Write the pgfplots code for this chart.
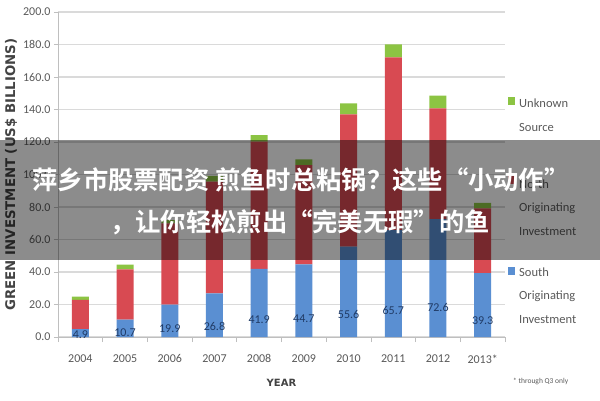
\documentclass[border=0pt]{standalone}
\usepackage{fontspec}
\setmainfont{Carlito}
\newfontfamily\labelfont{DejaVu Sans}
\newfontfamily\cjk{Noto Sans CJK SC}[BoldFont={* Bold}]
\usepackage{pgfplots}
\pgfplotsset{compat=1.18}

\definecolor{southblue}{HTML}{5A8FD2}
\definecolor{northred}{HTML}{D84A52}
\definecolor{unkgreen}{HTML}{8CC443}
\definecolor{gridgray}{HTML}{DADADA}
\definecolor{axisgray}{HTML}{BFBFBF}
\definecolor{txtgray}{HTML}{595959}
\definecolor{lblnavy}{HTML}{203B66}

\begin{document}
\begin{tikzpicture}
\useasboundingbox (0pt,0pt) rectangle (600pt,400pt);
\begin{axis}[
    at={(58pt,63pt)}, anchor=south west,
    width=447pt, height=325pt, scale only axis,
    ybar stacked, bar width=17pt,
    xmin=-0.5, xmax=9.5, ymin=0, ymax=200,
    xtick=data,
    xticklabels={2004,2005,2006,2007,2008,2009,2010,2011,2012,2013*},
    minor xtick={-0.5,0.5,...,9.5},
    ytick={0,20,...,200},
    axis x line*=bottom, axis y line*=left,
    axis line style={draw=axisgray, line width=0.8pt},
    ymajorgrids, grid style={line width=1.3pt, color=gridgray},
    tick align=outside,
    major tick length=4pt, minor tick length=5pt,
    major x tick style={draw=none},
    tick style={draw=axisgray, line width=0.8pt},
    ticklabel style={font=\fontsize{12}{14}\selectfont, text=txtgray},
    xticklabel style={yshift=-10pt},
    yticklabel style={/pgf/number format/.cd, fixed, fixed zerofill, precision=1, assume math mode=true},
    xlabel={YEAR},
    ylabel={GREEN INVESTMENT (US\$ BILLIONS)},
    label style={text=txtgray!75!black},
    xlabel style={at={(axis description cs:0.5,-0.1415)}, anchor=center,
        font=\labelfont\bfseries\fontsize{10}{12}\selectfont},
    ylabel style={at={(axis description cs:-0.105,0.5)}, anchor=center,
        font=\labelfont\bfseries\fontsize{13.3}{15}\selectfont},
]
% South originating
\addplot[fill=southblue, draw=none] coordinates {
 (0,4.9)(1,10.7)(2,19.9)(3,26.8)(4,41.9)(5,44.7)(6,55.6)(7,65.7)(8,72.6)(9,39.3)};
% North originating
\addplot[fill=northred, draw=none] coordinates {
 (0,17.9)(1,30.9)(2,50.1)(3,68.8)(4,78.3)(5,61.1)(6,81.4)(7,106.4)(8,68.1)(9,39.9)};
% Unknown source
\addplot[fill=unkgreen, draw=none] coordinates {
 (0,2.0)(1,3.0)(2,2.0)(3,3.5)(4,4.1)(5,3.5)(6,6.8)(7,8.0)(8,7.8)(9,3.4)};
% value labels in the middle of the blue bars
\addplot[forget plot, stack plots=false, draw=none, fill=none,
    nodes near coords, point meta=explicit symbolic,
    every node near coord/.style={anchor=center, text=lblnavy,
        font=\fontsize{12}{14}\selectfont}]
 coordinates {
 (0,2.45)[4.9](1,5.35)[10.7](2,9.95)[19.9](3,13.4)[26.8](4,20.95)[41.9]
 (5,22.35)[44.7](6,27.8)[55.6](7,32.85)[65.7](8,36.3)[72.6](9,19.65)[39.3]};
\end{axis}

% legend
\fill[unkgreen] (508pt,295pt) rectangle (515pt,303pt);
\fill[northred] (508pt,216pt) rectangle (515pt,224pt);
\fill[southblue] (508pt,125pt) rectangle (515pt,133pt);
\begin{scope}[every node/.style={anchor=west, inner sep=0pt, text=txtgray,
      font=\fontsize{12.5}{14}\selectfont}]
\node at (519pt,297pt) {Unknown};
\node at (519pt,273pt) {Source};
\node at (519pt,216pt) {North};
\node at (519pt,192pt) {Originating};
\node at (519pt,168pt) {Investment};
\node at (519pt,128pt) {South};
\node at (519pt,104pt) {Originating};
\node at (519pt,80pt) {Investment};
\end{scope}
\node[anchor=west, inner sep=0pt, text=txtgray, font=\fontsize{7.5}{8}\selectfont]
  at (513pt,19pt) {* through Q3 only};

% overlay banner
\fill[black, opacity=0.45] (0pt,140pt) rectangle (600pt,260pt);
\node[text=white, inner sep=0pt, font=\cjk\bfseries\fontsize{25.3}{28}\selectfont]
  at (301pt,220pt) {萍乡市股票配资 煎鱼时总粘锅？这些“小动作”};
\node[text=white, inner sep=0pt, font=\cjk\bfseries\fontsize{25.3}{28}\selectfont]
  at (300pt,178pt) {，让你轻松煎出“完美无瑕”的鱼};
\end{tikzpicture}
\end{document}
